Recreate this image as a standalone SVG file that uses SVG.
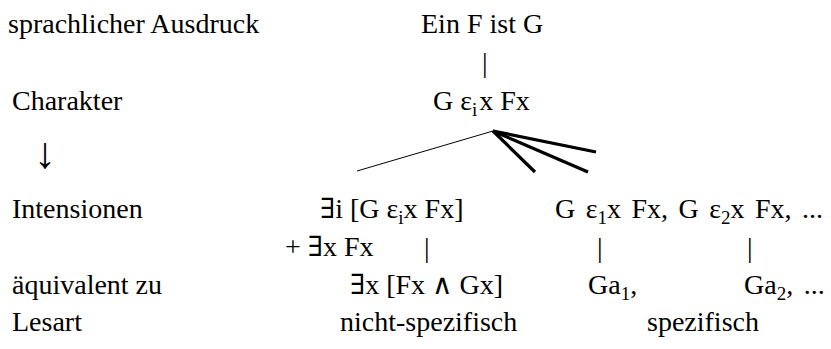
<svg xmlns="http://www.w3.org/2000/svg" width="831" height="349" viewBox="0 0 831 349">
<style>
text{font-family:"Liberation Serif","Times New Roman","DejaVu Serif",serif;font-size:28px;fill:#000}
.sub{font-size:19px}
.arrow{font-size:44px}
.wide{word-spacing:3.5px}
.thin{stroke:#000;stroke-width:1;fill:none}
.thick{stroke:#000;stroke-width:3.2;fill:none;stroke-linecap:butt}
</style>
<rect width="831" height="349" fill="#fff"/>
<g id="labels">
<text x="8" y="33">sprachlicher Ausdruck</text>
<text x="12" y="110">Charakter</text>
<text class="arrow" x="34" y="168">↓</text>
<text x="12" y="218">Intensionen</text>
<text x="12" y="294">äquivalent zu</text>
<text x="12" y="331">Lesart</text>
</g>
<g id="n-ausdruck"><text x="421" y="33">Ein F ist G</text></g>
<g id="n-bar1"><text x="482" y="72">|</text></g>
<g id="n-charakter"><text x="433" y="110">G ε<tspan class="sub" dy="6">i</tspan><tspan dy="-6" dx="2">x Fx</tspan></text></g>
<g id="n-int1"><text x="320" y="218">∃i [G ε<tspan class="sub" dy="6">i</tspan><tspan dy="-6">x Fx]</tspan></text></g>
<g id="n-int2"><text class="wide" x="555" y="218">G ε<tspan class="sub" dy="6">1</tspan><tspan dy="-6">x Fx, G ε</tspan><tspan class="sub" dy="6">2</tspan><tspan dy="-6">x Fx, ...</tspan></text></g>
<g id="n-plus"><text x="285" y="256">+ ∃x Fx</text></g>
<g id="n-bar2"><text x="424" y="257">|</text></g>
<g id="n-bar3"><text x="597" y="257">|</text></g>
<g id="n-bar4"><text x="747" y="257">|</text></g>
<g id="n-aeq1"><text x="350" y="294">∃x [Fx ∧ Gx]</text></g>
<g id="n-ga1"><text x="588" y="294">Ga<tspan class="sub" dy="6">1</tspan><tspan dy="-6">,</tspan></text></g>
<g id="n-ga2"><text class="wide" x="744" y="294">Ga<tspan class="sub" dy="6">2</tspan><tspan dy="-6">, ...</tspan></text></g>
<g id="n-nspez"><text x="340" y="331">nicht-spezifisch</text></g>
<g id="n-spez"><text x="647" y="331">spezifisch</text></g>
<g id="connectors">
<line class="thin" x1="493" y1="131" x2="357" y2="171"/>
<line class="thick" x1="493" y1="131" x2="535" y2="172"/>
<line class="thick" x1="493" y1="131" x2="588" y2="172"/>
<line class="thick" x1="493" y1="131" x2="596" y2="152"/>
</g>
</svg>
